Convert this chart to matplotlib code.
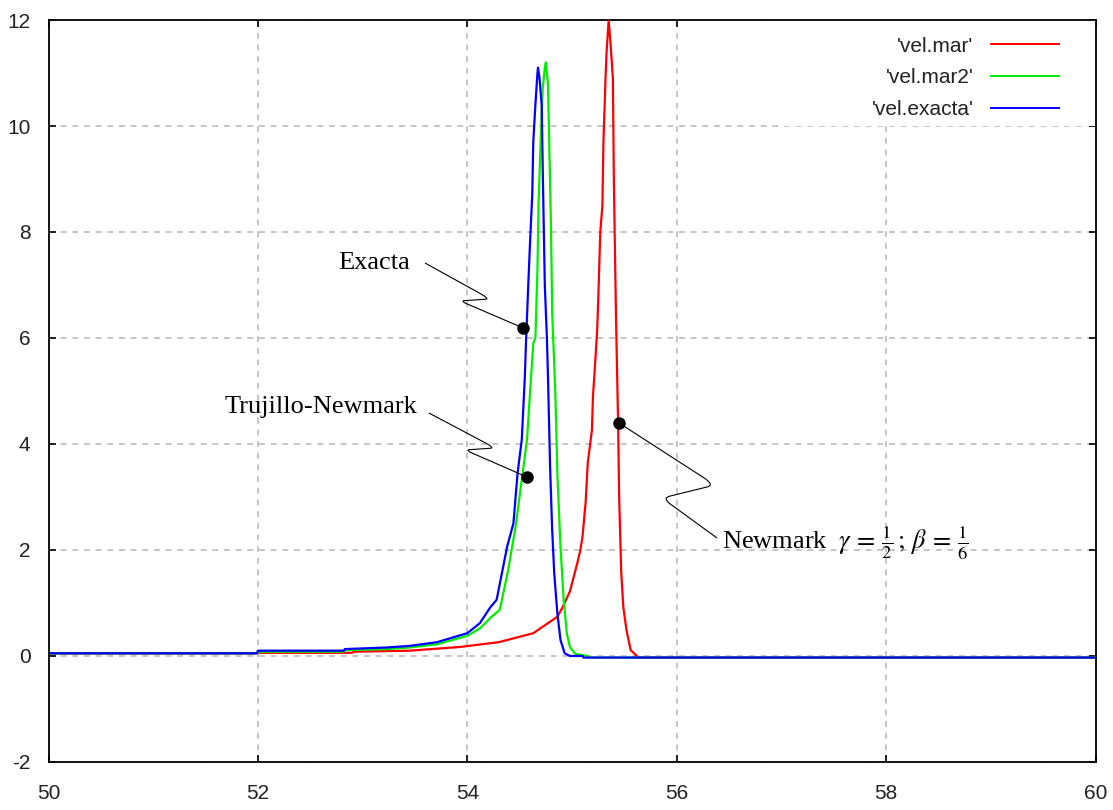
import matplotlib
matplotlib.use("Agg")
import matplotlib.pyplot as plt
from matplotlib.path import Path
from matplotlib.patches import PathPatch, Rectangle

# velocity series (time, velocity)
t_mar = [50.0, 51.99, 52.0, 52.9, 52.91, 53.45, 53.93, 54.3, 54.63, 54.86, 54.91,
         54.98, 55.05, 55.08, 55.10, 55.13, 55.15, 55.19, 55.20, 55.22, 55.24,
         55.25, 55.27, 55.29, 55.30, 55.32, 55.33, 55.35, 55.37, 55.39, 55.40,
         55.42, 55.44, 55.45, 55.47, 55.49, 55.52, 55.56, 55.62, 55.63, 60.0]
v_mar = [0.05, 0.05, 0.06, 0.06, 0.08, 0.10, 0.17, 0.26, 0.43, 0.74, 0.92,
         1.22, 1.75, 2.0, 2.25, 2.9, 3.64, 4.26, 4.9, 5.5, 6.15,
         6.7, 8.0, 8.5, 9.7, 10.9, 11.4, 12.0, 11.5, 10.9, 8.9,
         6.4, 4.4, 3.0, 1.57, 0.92, 0.49, 0.11, 0.0, -0.03, -0.03]

t_mar2 = [50.0, 51.99, 52.0, 52.82, 52.83, 53.23, 53.45, 53.71, 54.0, 54.12, 54.22,
          54.31, 54.39, 54.46, 54.52, 54.57, 54.60, 54.63, 54.65, 54.67, 54.68,
          54.70, 54.72, 54.74, 54.75, 54.77, 54.78, 54.80, 54.81, 54.82, 54.84,
          54.86, 54.89, 54.92, 54.95, 54.98, 55.03, 55.15, 55.16, 60.0]
v_mar2 = [0.05, 0.05, 0.08, 0.08, 0.11, 0.13, 0.16, 0.22, 0.38, 0.52, 0.72,
          0.87, 1.62, 2.43, 3.32, 4.08, 5.0, 5.9, 6.0, 7.3, 8.5,
          9.7, 10.7, 11.1, 11.2, 10.8, 9.9, 8.0, 6.5, 6.0, 5.0,
          3.45, 2.05, 1.06, 0.43, 0.17, 0.04, 0.0, -0.03, -0.03]

t_exacta = [50.0, 51.99, 52.0, 52.82, 52.83, 53.23, 53.45, 53.71, 54.0, 54.12, 54.22,
            54.28, 54.38, 54.44, 54.48, 54.52, 54.55, 54.56, 54.58, 54.60, 54.62,
            54.63, 54.65, 54.67, 54.675, 54.69, 54.71, 54.72, 54.74, 54.76, 54.77,
            54.79, 54.81, 54.83, 54.86, 54.89, 54.93, 54.98, 55.10, 55.11, 60.0]
v_exacta = [0.05, 0.05, 0.10, 0.10, 0.13, 0.16, 0.19, 0.26, 0.43, 0.62, 0.92,
            1.06, 2.06, 2.5, 3.45, 4.08, 5.3, 5.9, 6.9, 7.85, 8.7,
            9.7, 10.4, 11.0, 11.1, 10.9, 10.4, 9.2, 7.0, 6.0, 5.3,
            3.6, 2.4, 1.56, 0.8, 0.3, 0.05, 0.0, 0.0, -0.03, -0.03]

series_labels = ["'vel.mar'", "'vel.mar2'", "'vel.exacta'"]
series_colors = ["#ff0000", "#00ee00", "#0000ff"]

x_ticks = [50, 52, 54, 56, 58, 60]
y_ticks = [-2, 0, 2, 4, 6, 8, 10, 12]

# callouts: text, text anchor, wiggle path (start, turn, back, point on curve)
callout_text = ["Exacta", "Trujillo-Newmark",
                r"Newmark $\ \gamma\, =\, \frac{1}{2}\,;\, \beta\, =\, \frac{1}{6}$"]
callout_xy = [(52.765, 7.30), (51.686, 4.585), (56.432, 2.02)]
callout_path = [
    [(53.596, 7.415), (54.217, 6.736), (53.93, 6.70), (54.532, 6.19)],
    [(53.633, 4.585), (54.264, 3.925), (53.978, 3.887), (54.57, 3.377)],
    [(56.385, 2.226), (55.86, 2.98), (56.366, 3.226), (55.449, 4.396)],
]

plt.rcParams['mathtext.fontset'] = 'stix'
plt.rcParams['axes.unicode_minus'] = False

fig = plt.figure(figsize=(11.13, 8.10), dpi=100)
ax = fig.add_axes([0.0436, 0.0593, 0.9407, 0.916])

for t, v, lab, col in zip([t_mar, t_mar2, t_exacta], [v_mar, v_mar2, v_exacta],
                          series_labels, series_colors):
    ax.plot(t, v, color=col, lw=1.6, label=lab, zorder=3)

ax.set_xlim(50, 60)
ax.set_ylim(-2, 12)
ax.set_xticks(x_ticks)
ax.set_yticks(y_ticks)
ax.grid(True, color="#bbbbbb", lw=1.2, linestyle=(0, (3.5, 3.5)))
ax.set_axisbelow(True)
ax.tick_params(direction="in", length=5, width=1.2, top=True, right=True,
               labelsize=15, labelcolor="#222222")
ax.tick_params(axis="y", pad=13)
ax.tick_params(axis="x", pad=16)
for lbl in ax.get_xticklabels() + ax.get_yticklabels():
    lbl.set_family("Liberation Sans")
for sp in ax.spines.values():
    sp.set_linewidth(1.3)

# key box hides the grid behind it
ax.add_patch(Rectangle((0.70, 0.857), 0.30, 0.143, transform=ax.transAxes,
                       facecolor="white", edgecolor="none", zorder=1))
leg = ax.legend(loc="upper right", bbox_to_anchor=(0.983, 1.003), frameon=False,
                markerfirst=False, handlelength=3.25, handletextpad=0.85,
                labelspacing=0.62, prop={"family": "Liberation Sans", "size": 15})
for txt in leg.get_texts():
    txt.set_color("#222222")
for h in leg.get_lines():
    h.set_linewidth(1.4)

for text, (tx, ty), pts in zip(callout_text, callout_xy, callout_path):
    ax.text(tx, ty, text, ha="left", va="baseline", fontsize=19,
            family="Liberation Serif", zorder=5)
    p0, p1, p2, p3 = pts
    a = (p0[0] + 0.85 * (p1[0] - p0[0]), p0[1] + 0.85 * (p1[1] - p0[1]))
    b = (p1[0] + 0.15 * (p2[0] - p1[0]), p1[1] + 0.15 * (p2[1] - p1[1]))
    c = (p1[0] + 0.85 * (p2[0] - p1[0]), p1[1] + 0.85 * (p2[1] - p1[1]))
    d = (p2[0] + 0.12 * (p3[0] - p2[0]), p2[1] + 0.12 * (p3[1] - p2[1]))
    verts = [p0, a, p1, b, c, p2, d, p3]
    codes = [Path.MOVETO, Path.LINETO, Path.CURVE3, Path.CURVE3,
             Path.LINETO, Path.CURVE3, Path.CURVE3, Path.LINETO]
    ax.add_patch(PathPatch(Path(verts, codes), facecolor="none",
                           edgecolor="black", lw=0.8, zorder=5))
    ax.plot([p3[0]], [p3[1]], "o", color="black", ms=8, zorder=6)

fig.savefig("out.png", dpi=100)
